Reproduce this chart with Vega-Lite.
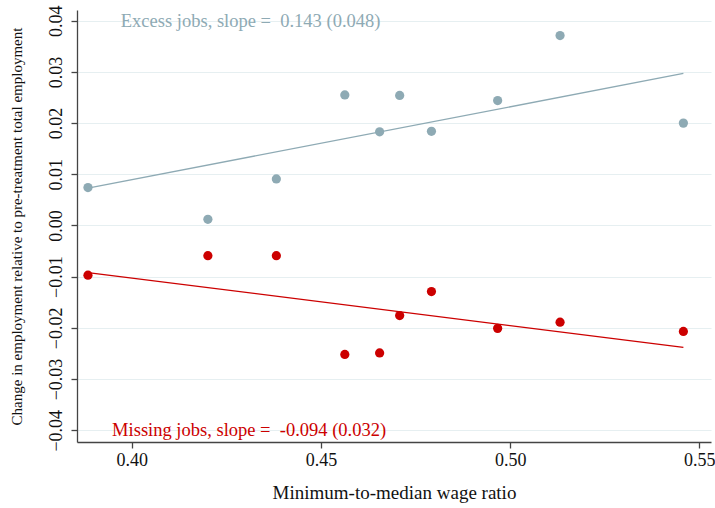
{
  "$schema": "https://vega.github.io/schema/vega-lite/v6.json",
  "autosize": "none",
  "width": 634,
  "height": 432,
  "padding": {"left": 77, "top": 10, "right": 4, "bottom": 66},
  "background": "white",
  "config": {
    "view": {"stroke": null},
    "font": "Liberation Serif",
    "axis": {
      "labelFont": "Liberation Serif",
      "titleFont": "Liberation Serif",
      "labelColor": "#111111",
      "titleColor": "#111111",
      "domainColor": "#444444",
      "tickColor": "#444444",
      "domainWidth": 1.3,
      "tickWidth": 1.3,
      "tickSize": 6,
      "titleFontWeight": "normal"
    }
  },
  "datasets": {
    "points": [
      {"ratio": 0.3884, "change": 0.0074, "series": "Excess"},
      {"ratio": 0.4201, "change": 0.0012, "series": "Excess"},
      {"ratio": 0.4382, "change": 0.0091, "series": "Excess"},
      {"ratio": 0.4563, "change": 0.0255, "series": "Excess"},
      {"ratio": 0.4655, "change": 0.0183, "series": "Excess"},
      {"ratio": 0.4708, "change": 0.0254, "series": "Excess"},
      {"ratio": 0.4792, "change": 0.0184, "series": "Excess"},
      {"ratio": 0.4967, "change": 0.0244, "series": "Excess"},
      {"ratio": 0.5132, "change": 0.0371, "series": "Excess"},
      {"ratio": 0.5458, "change": 0.0200, "series": "Excess"},
      {"ratio": 0.3884, "change": -0.0097, "series": "Missing"},
      {"ratio": 0.4201, "change": -0.0059, "series": "Missing"},
      {"ratio": 0.4382, "change": -0.0059, "series": "Missing"},
      {"ratio": 0.4563, "change": -0.0252, "series": "Missing"},
      {"ratio": 0.4655, "change": -0.0249, "series": "Missing"},
      {"ratio": 0.4708, "change": -0.0176, "series": "Missing"},
      {"ratio": 0.4792, "change": -0.0129, "series": "Missing"},
      {"ratio": 0.4967, "change": -0.0201, "series": "Missing"},
      {"ratio": 0.5132, "change": -0.0189, "series": "Missing"},
      {"ratio": 0.5458, "change": -0.0207, "series": "Missing"}
    ],
    "fits": [
      {"ratio": 0.3884, "fitted": 0.0073, "series": "Excess"},
      {"ratio": 0.5458, "fitted": 0.0297, "series": "Excess"},
      {"ratio": 0.3884, "fitted": -0.0092, "series": "Missing"},
      {"ratio": 0.5458, "fitted": -0.0238, "series": "Missing"}
    ],
    "labels": [
      {"label": "Excess jobs, slope =\u00a0 0.143 (0.048)", "series": "Excess", "lx": 0.4314, "ly": 0.0400},
      {"label": "Missing jobs, slope =\u00a0 -0.094 (0.032)", "series": "Missing", "lx": 0.4310, "ly": -0.0400}
    ]
  },
  "layer": [
    {
      "data": {"name": "points"},
      "mark": {"type": "circle", "size": 85, "opacity": 1},
      "encoding": {
        "x": {
          "field": "ratio", "type": "quantitative",
          "scale": {"domain": [0.3855, 0.5531], "nice": false, "zero": false},
          "axis": {
            "values": [0.40, 0.45, 0.50, 0.55], "format": ".2f",
            "grid": false, "labelFontSize": 18, "labelPadding": 3,
            "title": "Minimum-to-median wage ratio", "titleFontSize": 19, "titlePadding": 14
          }
        },
        "y": {
          "field": "change", "type": "quantitative",
          "scale": {"domain": [-0.0423, 0.0421], "nice": false, "zero": false},
          "axis": {
            "values": [-0.04, -0.03, -0.02, -0.01, 0, 0.01, 0.02, 0.03, 0.04], "format": ".2f",
            "grid": true, "gridColor": "#e6eff1", "gridWidth": 1.2,
            "labelAngle": -90, "labelAlign": "center", "labelBaseline": "bottom",
            "labelFontSize": 18, "labelPadding": 6,
            "title": "Change in employment relative to pre-treatment total employment",
            "titleFontSize": 15, "titlePadding": 23
          }
        },
        "color": {
          "field": "series", "type": "nominal",
          "scale": {"domain": ["Excess", "Missing"], "range": ["#8eaab4", "#cc0000"]},
          "legend": null
        }
      }
    },
    {
      "data": {"name": "fits"},
      "mark": {"type": "line", "strokeWidth": 1.3},
      "encoding": {
        "x": {"field": "ratio", "type": "quantitative"},
        "y": {"field": "fitted", "type": "quantitative"},
        "color": {"field": "series", "type": "nominal", "legend": null}
      }
    },
    {
      "data": {"name": "labels"},
      "mark": {"type": "text", "fontSize": 18.5, "font": "Liberation Serif", "align": "center", "baseline": "middle"},
      "encoding": {
        "x": {"field": "lx", "type": "quantitative"},
        "y": {"field": "ly", "type": "quantitative"},
        "text": {"field": "label"},
        "color": {"field": "series", "type": "nominal", "legend": null}
      }
    }
  ]
}
